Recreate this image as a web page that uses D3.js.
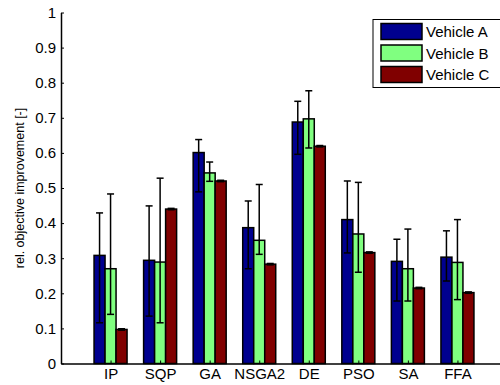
<!DOCTYPE html>
<html>
<head>
<meta charset="utf-8">
<script src="https://cdn.jsdelivr.net/npm/d3@7"></script>
<style>
  body { margin: 0; background: #fff; }
  text { font-family: "Liberation Sans", Arial, sans-serif; fill: #000; }
</style>
</head>
<body>
<div id="chart"></div>
<script>
// data
var categories = ["IP", "SQP", "GA", "NSGA2", "DE", "PSO", "SA", "FFA"];
var seriesNames = ["Vehicle A", "Vehicle B", "Vehicle C"];
var seriesColors = ["#00008f", "#80ff80", "#800000"];

var valuesA = [0.308, 0.294, 0.601, 0.387, 0.688, 0.410, 0.291, 0.303];
var valuesB = [0.270, 0.289, 0.543, 0.351, 0.697, 0.369, 0.270, 0.288];
var valuesC = [0.097, 0.440, 0.520, 0.283, 0.619, 0.316, 0.215, 0.202];

// error bar ends (low / high)
var lowA  = [0.116, 0.135, 0.489, 0.270, 0.596, 0.315, 0.178, 0.235];
var highA = [0.429, 0.449, 0.638, 0.463, 0.747, 0.520, 0.354, 0.378];
var lowB  = [0.140, 0.116, 0.519, 0.311, 0.614, 0.260, 0.178, 0.182];
var highB = [0.483, 0.528, 0.574, 0.510, 0.777, 0.516, 0.383, 0.410];
var lowC  = [0.095, 0.438, 0.518, 0.281, 0.617, 0.314, 0.213, 0.200];
var highC = [0.099, 0.442, 0.522, 0.285, 0.621, 0.318, 0.217, 0.204];

var yTicks = [0, 0.1, 0.2, 0.3, 0.4, 0.5, 0.6, 0.7, 0.8, 0.9, 1];

var series = [
  {values: valuesA, low: lowA, high: highA},
  {values: valuesB, low: lowB, high: highB},
  {values: valuesC, low: lowC, high: highC}
];

var svg = d3.select("#chart")
            .append("svg")
            .attr("width", 500)
            .attr("height", 385);

var x = d3.scaleLinear().domain([0, 9]).range([61, 507]);
var y = d3.scaleLinear().domain([0, 1]).range([363.5, 12.5]);
var barW = 0.222; // in category units

// bars
series.forEach(function(s, j){
  svg.append("g").selectAll("rect")
     .data(s.values)
     .enter().append("rect")
     .attr("x", function(d, i){ return x(i + 1 + (j - 1) * barW - barW / 2); })
     .attr("width", x(barW) - x(0))
     .attr("y", function(d){ return y(d); })
     .attr("height", function(d){ return y(0) - y(d); })
     .attr("fill", seriesColors[j])
     .attr("stroke", "#000")
     .attr("stroke-width", 1.5);
});

// error bars
series.forEach(function(s, j){
  var g = svg.append("g").attr("stroke", "#000").attr("stroke-width", 1.5);
  s.values.forEach(function(d, i){
    var cx = x(i + 1 + (j - 1) * barW);
    g.append("line").attr("x1", cx).attr("x2", cx)
     .attr("y1", y(s.low[i])).attr("y2", y(s.high[i]));
    g.append("line").attr("x1", cx - 3.5).attr("x2", cx + 3.5)
     .attr("y1", y(s.low[i])).attr("y2", y(s.low[i]));
    g.append("line").attr("x1", cx - 3.5).attr("x2", cx + 3.5)
     .attr("y1", y(s.high[i])).attr("y2", y(s.high[i]));
  });
});

// y axis
var yAxis = d3.axisLeft(y).tickValues(yTicks).tickSizeInner(-3).tickSizeOuter(0)
              .tickPadding(5).tickFormat(function(d){ return d3.format("")(+d.toFixed(1)); });
var gy = svg.append("g").attr("transform", "translate(" + x(0) + ",0)").call(yAxis);
gy.select(".domain").attr("stroke-width", 1.5);
gy.selectAll("text").style("font-size", "15px");

// x axis
var xAxis = d3.axisBottom(x).tickValues(d3.range(1, categories.length + 1))
              .tickSizeInner(-3).tickSizeOuter(0).tickPadding(5)
              .tickFormat(function(d){ return categories[d - 1]; });
var gx = svg.append("g").attr("transform", "translate(0," + y(0) + ")").call(xAxis);
gx.select(".domain").attr("stroke-width", 1.5);
gx.selectAll("text").style("font-size", "15px");

// y label
svg.append("text")
   .attr("transform", "translate(24," + y(0.5) + ") rotate(-90)")
   .attr("text-anchor", "middle")
   .style("font-size", "12.5px")
   .text("rel. objective improvement [-]");

// legend
var leg = svg.append("g");
leg.append("rect").attr("x", 373).attr("y", 19.5).attr("width", 140).attr("height", 68)
   .attr("fill", "#fff").attr("stroke", "#000").attr("stroke-width", 1);
seriesNames.forEach(function(name, j){
  var ly = 23.5 + j * 21.5;
  leg.append("rect").attr("x", 381).attr("y", ly).attr("width", 41).attr("height", 16)
     .attr("fill", seriesColors[j]).attr("stroke", "#000").attr("stroke-width", 1.5);
  leg.append("text").attr("x", 426).attr("y", ly + 13.5)
     .style("font-size", "15px").text(name);
});
</script>
</body>
</html>
